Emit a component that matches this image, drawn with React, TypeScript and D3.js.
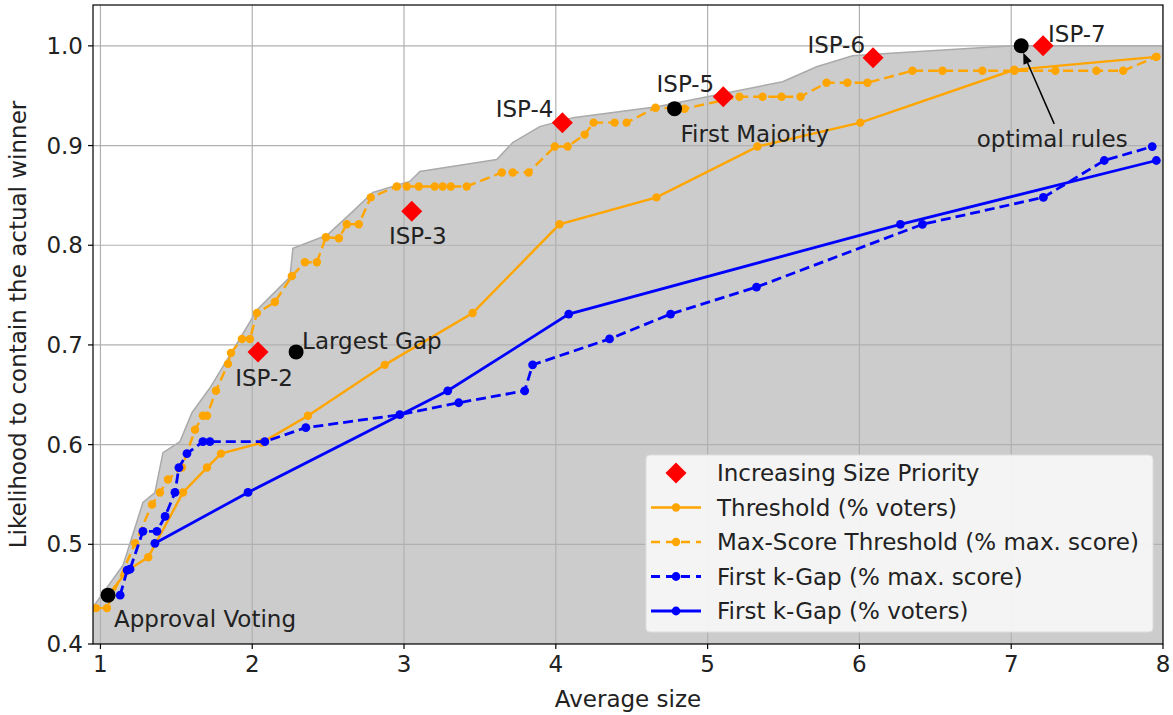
import React from "react";
import * as d3 from "d3";

type P = [number, number];

const maxScoreThreshold: P[] = [
  [0.971, 0.436], [1.043, 0.436], [1.228, 0.501], [1.34, 0.54], [1.392, 0.552], [1.445, 0.565],
  [1.537, 0.577], [1.623, 0.615], [1.675, 0.629], [1.702, 0.629], [1.761, 0.654], [1.84, 0.681],
  [1.86, 0.692], [1.932, 0.706], [1.985, 0.706], [2.031, 0.732], [2.149, 0.743], [2.261, 0.769],
  [2.347, 0.783], [2.426, 0.783], [2.485, 0.808], [2.571, 0.807], [2.623, 0.821], [2.702, 0.821],
  [2.781, 0.848], [2.952, 0.859], [3.018, 0.859], [3.097, 0.859], [3.202, 0.859], [3.255, 0.859],
  [3.308, 0.859], [3.413, 0.859], [3.644, 0.873], [3.716, 0.873], [3.821, 0.873], [3.993, 0.899],
  [4.078, 0.899], [4.19, 0.911], [4.249, 0.923], [4.387, 0.923], [4.466, 0.923], [4.657, 0.938],
  [4.848, 0.937], [5.21, 0.949], [5.362, 0.949], [5.487, 0.949], [5.612, 0.949], [5.783, 0.963],
  [5.921, 0.963], [6.053, 0.963], [6.349, 0.975], [6.547, 0.975], [6.81, 0.975], [7.021, 0.975],
  [7.291, 0.975], [7.561, 0.975], [7.738, 0.975], [7.956, 0.989],
];

const threshold: P[] = [
  [1.05, 0.449], [1.18, 0.474], [1.315, 0.487], [1.544, 0.552], [1.702, 0.577], [1.794, 0.591],
  [2.064, 0.602], [2.367, 0.629], [2.873, 0.68], [3.452, 0.732], [4.024, 0.821], [4.663, 0.848],
  [5.328, 0.899], [6.006, 0.923], [7.02, 0.976], [7.956, 0.989],
];

const kGapMaxScore: P[] = [
  [1.13, 0.449], [1.176, 0.474], [1.195, 0.475], [1.28, 0.513], [1.372, 0.513], [1.426, 0.528],
  [1.491, 0.552], [1.517, 0.577], [1.57, 0.591], [1.675, 0.603], [1.721, 0.603], [2.083, 0.603],
  [2.353, 0.617], [2.972, 0.63], [3.36, 0.642], [3.795, 0.654], [3.847, 0.68], [4.354, 0.706],
  [4.756, 0.731], [5.322, 0.758], [6.415, 0.821], [7.212, 0.848], [7.613, 0.885], [7.929, 0.899],
];

const kGapVoters: P[] = [
  [1.359, 0.501], [1.972, 0.552], [3.288, 0.654], [4.085, 0.731], [6.27, 0.821], [7.956, 0.885],
];

const envelope: P[] = [
  [0.951, 0.437], [1.149, 0.479], [1.28, 0.542], [1.359, 0.552], [1.412, 0.592], [1.524, 0.603],
  [1.603, 0.632], [1.722, 0.657], [1.965, 0.718], [2.031, 0.735], [2.248, 0.768], [2.268, 0.797],
  [2.492, 0.81], [2.663, 0.834], [2.794, 0.853], [3.038, 0.864], [3.104, 0.874], [3.611, 0.886],
  [3.716, 0.903], [3.894, 0.919], [4.112, 0.928], [4.665, 0.939], [5.494, 0.964], [5.718, 0.979],
  [5.955, 0.99], [6.152, 0.992], [7.008, 1.0], [8.0, 1.0],
];

const ispNames = ["ISP-2", "ISP-3", "ISP-4", "ISP-5", "ISP-6", "ISP-7"];
const ispPoints: P[] = [
  [2.038, 0.693], [3.051, 0.834], [4.043, 0.923], [5.103, 0.949], [6.09, 0.988], [7.21, 1.0],
];

const namedRules = ["Approval Voting", "Largest Gap", "First Majority", "optimal rules"];
const namedPoints: P[] = [[1.05, 0.449], [2.289, 0.693], [4.782, 0.937], [7.066, 1.0]];

const xTicks = [1, 2, 3, 4, 5, 6, 7, 8];
const yTicks = [0.4, 0.5, 0.6, 0.7, 0.8, 0.9, 1.0];

const legendLabels = [
  "Increasing Size Priority",
  "Threshold (% voters)",
  "Max-Score Threshold (% max. score)",
  "First k-Gap (% max. score)",
  "First k-Gap (% voters)",
];

const W = 1173;
const H = 715;
const L = 93, R = 1163, T = 5, B = 644;
const FONT = "DejaVu Sans, sans-serif";
const FS = 23;
const ORANGE = "#FFA500";
const BLUE = "#0000FF";

export default function App() {
  const x = d3.scaleLinear().domain([0.951, 8]).range([L, R]);
  const y = d3.scaleLinear().domain([0.4, 1.041]).range([B, T]);
  const line = d3.line<P>().x((d) => x(d[0])).y((d) => y(d[1]));
  const area = d3
    .area<P>()
    .x((d) => x(d[0]))
    .y0(B)
    .y1((d) => y(d[1]));

  const diamond = (cx: number, cy: number, r: number) =>
    `M${cx},${cy - r}L${cx + r},${cy}L${cx},${cy + r}L${cx - r},${cy}Z`;

  const series = [
    { data: threshold, color: ORANGE, dash: undefined as string | undefined, r: 4.2, w: 2.4 },
    { data: maxScoreThreshold, color: ORANGE, dash: "10,5", r: 4.2, w: 2.4 },
    { data: kGapMaxScore, color: BLUE, dash: "10,5", r: 4.4, w: 2.8 },
    { data: kGapVoters, color: BLUE, dash: undefined, r: 4.4, w: 2.8 },
  ];

  const ispLabel: { dx: number; dy: number; anchor: string }[] = [
    { dx: 6, dy: 34, anchor: "middle" },
    { dx: 6, dy: 33, anchor: "middle" },
    { dx: -9, dy: -6, anchor: "end" },
    { dx: -9, dy: -5, anchor: "end" },
    { dx: -8, dy: -5, anchor: "end" },
    { dx: 5, dy: -4, anchor: "start" },
  ];
  const ruleLabel = [
    { dx: 6, dy: 32, anchor: "start" },
    { dx: 6, dy: -3, anchor: "start" },
    { dx: 6, dy: 33, anchor: "start" },
  ];

  const opt = namedPoints[3];
  const ox = x(opt[0]);
  const oy = y(opt[1]);
  const tailX = ox + 33, tailY = oy + 78;
  const tipX = ox + 2, tipY = oy + 7;
  const ang = Math.atan2(tipY - tailY, tipX - tailX);
  const ah = 11, aw = 4.5;
  const bx = tipX - ah * Math.cos(ang), by = tipY - ah * Math.sin(ang);
  const px = -Math.sin(ang), py = Math.cos(ang);

  const legX = 646, legY = 455, legW = 507, legH = 177;
  const rowY = (i: number) => legY + 18 + i * 34.5;

  return (
    <svg
      width={W}
      height={H}
      style={{ position: "absolute", left: 0, top: 0, background: "#fff" }}
      fontFamily={FONT}
    >
      <defs>
        <clipPath id="plot">
          <rect x={L} y={T} width={R - L} height={B - T} />
        </clipPath>
      </defs>
      <g clipPath="url(#plot)">
        <path d={area(envelope) ?? ""} fill="#cccccc" />
        <path d={line(envelope) ?? ""} fill="none" stroke="#aaaaaa" strokeWidth={1.5} />
        {xTicks.map((t) => (
          <line key={"gx" + t} x1={x(t)} x2={x(t)} y1={T} y2={B} stroke="#b0b0b0" strokeWidth={1.2} />
        ))}
        {yTicks.map((t) => (
          <line key={"gy" + t} x1={L} x2={R} y1={y(t)} y2={y(t)} stroke="#b0b0b0" strokeWidth={1.2} />
        ))}
        {series.map((s, i) => (
          <g key={"s" + i}>
            <path d={line(s.data) ?? ""} fill="none" stroke={s.color} strokeWidth={s.w} strokeDasharray={s.dash} />
            {s.data.map((d, j) => (
              <circle key={j} cx={x(d[0])} cy={y(d[1])} r={s.r} fill={s.color} />
            ))}
          </g>
        ))}
        {ispPoints.map((d, i) => (
          <path key={"isp" + i} d={diamond(x(d[0]), y(d[1]), 10.5)} fill="#ff0000" />
        ))}
        {namedPoints.map((d, i) => (
          <circle key={"n" + i} cx={x(d[0])} cy={y(d[1])} r={7.5} fill="#000" />
        ))}
      </g>
      {ispPoints.map((d, i) => (
        <text
          key={"il" + i}
          x={x(d[0]) + ispLabel[i].dx}
          y={y(d[1]) + ispLabel[i].dy}
          textAnchor={ispLabel[i].anchor as any}
          fontSize={FS}
          fill="#222"
        >
          {ispNames[i]}
        </text>
      ))}
      {namedPoints.slice(0, 3).map((d, i) => (
        <text
          key={"nl" + i}
          x={x(d[0]) + ruleLabel[i].dx}
          y={y(d[1]) + ruleLabel[i].dy}
          textAnchor={ruleLabel[i].anchor as any}
          fontSize={FS}
          fill="#222"
        >
          {namedRules[i]}
        </text>
      ))}
      <line x1={tailX} y1={tailY} x2={bx} y2={by} stroke="#000" strokeWidth={1.5} />
      <path
        d={`M${tipX},${tipY}L${bx + px * aw},${by + py * aw}L${bx - px * aw},${by - py * aw}Z`}
        fill="#000"
      />
      <text x={ox + 31} y={oy + 101} textAnchor="middle" fontSize={FS} fill="#222">
        {namedRules[3]}
      </text>

      <rect x={legX} y={legY} width={legW} height={legH} rx={4} fill="#f5f5f5" fillOpacity={0.95} stroke="#dddddd" />
      {legendLabels.map((lab, i) => {
        const cy = rowY(i);
        let handle: React.ReactNode = null;
        if (i === 0) handle = <path d={diamond(676, cy, 10.5)} fill="#ff0000" />;
        else {
          const s = series[i - 1];
          handle = (
            <g>
              <line x1={651} x2={701} y1={cy} y2={cy} stroke={s.color} strokeWidth={s.w} strokeDasharray={s.dash ? "9,6" : undefined} />
              <circle cx={676} cy={cy} r={s.r} fill={s.color} />
            </g>
          );
        }
        return (
          <g key={"lg" + i}>
            {handle}
            <text x={717} y={cy + 8} fontSize={FS} fill="#222">
              {lab}
            </text>
          </g>
        );
      })}

      <rect x={L} y={T} width={R - L} height={B - T} fill="none" stroke="#000" strokeWidth={1.2} />
      {xTicks.map((t) => (
        <g key={"xt" + t}>
          <line x1={x(t)} x2={x(t)} y1={B} y2={B + 5} stroke="#000" strokeWidth={1.2} />
          <text x={x(t)} y={B + 28} textAnchor="middle" fontSize={FS} fill="#222">
            {t}
          </text>
        </g>
      ))}
      {yTicks.map((t) => (
        <g key={"yt" + t}>
          <line x1={L - 5} x2={L} y1={y(t)} y2={y(t)} stroke="#000" strokeWidth={1.2} />
          <text x={L - 10} y={y(t) + 8} textAnchor="end" fontSize={FS} fill="#222">
            {t.toFixed(1)}
          </text>
        </g>
      ))}
      <text x={(L + R) / 2} y={707} textAnchor="middle" fontSize={FS} fill="#222">
        Average size
      </text>
      <text
        transform={`translate(26,${(T + B) / 2}) rotate(-90)`}
        textAnchor="middle"
        fontSize={FS}
        fill="#222"
      >
        Likelihood to contain the actual winner
      </text>
    </svg>
  );
}
